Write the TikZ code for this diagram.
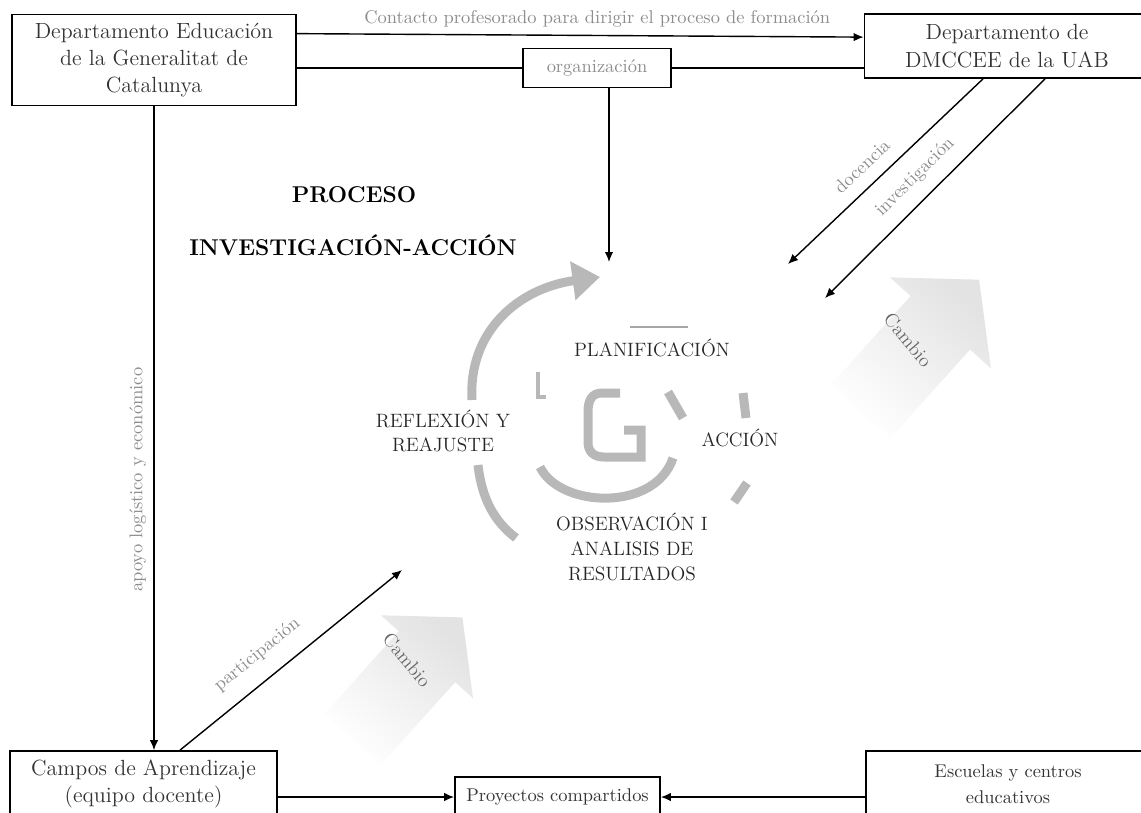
\documentclass[tikz,border=0pt]{standalone}
\usepackage{amsmath}
\usetikzlibrary{arrows.meta, positioning}

\begin{document}
\begin{tikzpicture}[x=0.02cm, y=-0.02cm, >={Latex[length=2mm, width=1.7mm]},
			caja/.style={draw, line width=1pt, align=center, inner sep=0pt,
				font=\fontsize{12.5}{15.5}\selectfont, text=black!80},
			cajita/.style={caja, font=\fontsize{10.5}{15}\selectfont},
			etiq/.style={font=\fontsize{10.5}{12}\selectfont, text=black!45},
			fase/.style={align=center, font=\fontsize{11}{14}\selectfont, text=black!85},
			ciclo/.style={draw=black!28, line width=0.18cm},
			flecha/.style={->, line width=0.8pt},
			cambio/.style={left color=white, right color=black!11, shading angle=138}]
			
			\useasboundingbox (0,0) rectangle (1141,812);
			\clip (0,0) rectangle (1141,812);
			
			% Flechas de fondo "Cambio"
			\begin{scope}[shift={(860,412)}, rotate=48]
				\shade[cambio] (0,-40) -- (120,-40) -- (120,-68) -- (178,0) -- (120,68) -- (120,40) -- (0,40) -- cycle;
			\end{scope}
			\begin{scope}[shift={(352,740)}, rotate=48]
				\shade[cambio] (0,-38) -- (112,-38) -- (112,-62) -- (165,0) -- (112,62) -- (112,38) -- (0,38) -- cycle;
			\end{scope}
			\node[rotate=-50, text=black!60, font=\fontsize{11}{12}\selectfont] (cambio1) at (908,340) {Cambio};
			\node[rotate=-50, text=black!60, font=\fontsize{11}{12}\selectfont] (cambio2) at (407,660) {Cambio};
			
			% Cajas
			\node[caja, minimum width=5.68cm, minimum height=1.82cm] (gen) at (154,60) {Departamento Educación\\de la Generalitat de\\Catalunya};
			\node[caja, minimum width=5.7cm, minimum height=1.28cm] (uab) at (1007,46) {Departamento de\\DMCCEE de la UAB};
			\node[caja, etiq, minimum width=2.96cm, minimum height=0.78cm] (org) at (597,68) {organización};
			\node[caja, minimum width=5.34cm, minimum height=1.32cm] (campos) at (143.5,784) {Campos de Aprendizaje\\(equipo docente)};
			\node[cajita, minimum width=4.1cm, minimum height=0.8cm] (proy) at (557.5,797) {Proyectos compartidos};
			\node[cajita, minimum width=5.68cm, minimum height=1.32cm] (esc) at (1008,784) {Escuelas y centros\\educativos};
			
			% Titulo
			\node[font=\bfseries\fontsize{13}{15}\selectfont] (tit1) at (354,195) {PROCESO};
			\node[font=\bfseries\fontsize{13}{15}\selectfont] (tit2) at (353,245) {INVESTIGACIÓN-ACCIÓN};
			
			% --- Ciclo de investigación-acción ---
			\draw[ciclo, -{Triangle[length=0.55cm, width=0.75cm]}] (472,400) .. controls (468,330) and (520,288) .. (600,277);
			\draw[ciclo] (478,465) .. controls (482,500) and (495,522) .. (516,538);
			\draw[ciclo] (540,467) .. controls (560,508) and (655,512) .. (673,458);
			\draw[ciclo] (620,393) -- (602,393) .. controls (592,393) and (588,400) .. (588,412) -- (588,442) .. controls (588,452) and (594,457) .. (604,457) -- (641,457) -- (641,430) -- (624,430);
			\draw[ciclo] (668,392) -- (683,418);
			\draw[ciclo] (743,393) -- (746,418);
			\draw[ciclo] (747,483) -- (734,502);
			\draw[black!28, line width=2.5pt] (538,372) -- (538,397) -- (546,397);
			\draw[black!35, line width=1pt] (630,327) -- (688,327);
			
			\node[fase] (plan) at (652,348) {PLANIFICACIÓN};
			\node[fase] (refl) at (443,431) {REFLEXIÓN Y\\REAJUSTE};
			\node[fase] (accion) at (740,438) {ACCIÓN};
			\node[fase] (obs) at (632,547) {OBSERVACIÓN I\\ANALISIS DE\\RESULTADOS};
			
			% --- Conexiones ---
			\coordinate (orgfin) at (609,262);
			\coordinate (docfin) at (788,264);
			\coordinate (invfin) at (825,298);
			\coordinate (partfin) at (402,570);
			
			% Desde Generalitat
			\draw[flecha] ([yshift=-0.4cm]gen.north east) -- node[etiq, above=1pt, pos=0.53]{Contacto profesorado para dirigir el proceso de formación} ([yshift=-0.48cm]uab.north west);
			\draw[line width=0.8pt] (gen.east |- org.west) -- (org.west);
			\draw[line width=0.8pt] (org.east) -- (org.east -| uab.west);
			\draw[flecha] (gen.south) -- node[etiq, pos=0.58, rotate=90, anchor=south, inner sep=4pt]{apoyo logístico y económico} (gen.south |- campos.north);
			
			% Desde organización
			\draw[flecha] (org.south -| orgfin) -- (orgfin);
			
			% Desde la UAB
			\draw[flecha] ([xshift=-0.48cm]uab.south) -- node[etiq, sloped, above=4pt, pos=0.55]{docencia} (docfin);
			\draw[flecha] ([xshift=0.76cm]uab.south) -- node[etiq, sloped, above=4pt, pos=0.52]{investigación} (invfin);
			
			% Desde Campos y Escuelas
			\draw[flecha] ([xshift=0.73cm]campos.north) -- node[etiq, sloped, above=6pt, pos=0.42]{participación} (partfin);
			\draw[flecha] (campos.east |- proy.west) -- (proy.west);
			\draw[flecha] (esc.west |- proy.east) -- (proy.east);
		\end{tikzpicture}
\end{document}
